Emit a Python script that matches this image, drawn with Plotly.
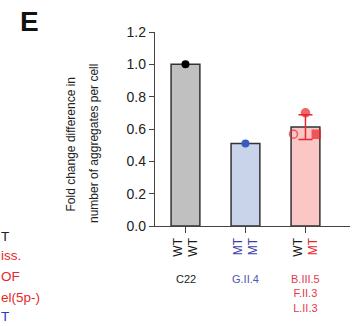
import numpy as np
import plotly.graph_objects as go

# Per-group measurements (fold change in aggregates per cell)
groups = ["C22", "G.II.4", "B.III.5<br>F.II.3<br>L.II.3"]
c22_vals = [1.0]
g24_vals = [0.51]
b35_vals = [0.70, 0.568, 0.568]          # filled circle, open circle, square
tick_top = ["WT", "MT", "WT"]
tick_bottom = ["WT", "MT", "MT"]
y_ticks = [0.0, 0.2, 0.4, 0.6, 0.8, 1.0, 1.2]

BLACK = "#1a1a1a"
BLUE = "#3b3fae"
RED = "#e8262c"
bar_fill = ["#c0c0c0", "#c9d3ea", "#fac6c6"]
top_col = [BLACK, BLUE, BLACK]
bot_col = [BLACK, BLUE, RED]
group_col = ["#222222", "#4e58b0", "#e23a4a"]

W, H = 362, 326
L, R, T, B = 155, 12, 32, 100
pw, ph = W - L - R, H - T - B


def px(x):
    return (x - L) / pw


def py(y):
    return (H - B - y) / ph


means = [np.mean(c22_vals), np.mean(g24_vals), np.mean(b35_vals)]
sd3 = np.std(b35_vals, ddof=1)
xs = [0, 1, 2]

fig = go.Figure()
fig.add_trace(go.Bar(
    x=xs, y=means, width=0.48,
    marker=dict(color=bar_fill, line=dict(color="#333333", width=1.5)),
    showlegend=False, hoverinfo="skip",
))
# SD error bar on the last group
fig.add_trace(go.Scatter(
    x=[2], y=[means[2]], mode="markers",
    marker=dict(size=1, color="rgba(0,0,0,0)"),
    error_y=dict(type="data", array=[sd3], color=RED, thickness=1.5, width=7),
    showlegend=False, hoverinfo="skip",
))
# individual points
fig.add_trace(go.Scatter(x=[0], y=c22_vals, mode="markers",
                         marker=dict(size=8, color="black"), showlegend=False))
fig.add_trace(go.Scatter(x=[1], y=g24_vals, mode="markers",
                         marker=dict(size=8, color="#3a5cc0"), showlegend=False))
fig.add_trace(go.Scatter(
    x=[2, 1.8, 2.18], y=b35_vals, mode="markers",
    marker=dict(size=[8, 8, 8], symbol=["circle", "circle-open", "square"],
                color=RED, line=dict(color=RED, width=1.5)),
    showlegend=False,
))

ticktext = [
    f"<span style='color:{top_col[i]}'>{tick_top[i]}</span><br>"
    f"<span style='color:{bot_col[i]}'>{tick_bottom[i]}</span>"
    for i in range(3)
]

fig.update_layout(
    width=W, height=H,
    margin=dict(l=L, r=R, t=T, b=B),
    paper_bgcolor="white", plot_bgcolor="white",
    font=dict(family="Arial, Liberation Sans, sans-serif", color="#222222"),
    xaxis=dict(
        range=[-0.508, 2.742], tickmode="array", tickvals=xs, ticktext=ticktext,
        tickangle=-90, tickfont=dict(size=12), ticks="outside", ticklen=6,
        tickwidth=1.3, tickcolor="#444444", showline=True, linecolor="#444444",
        linewidth=1.4, showgrid=False, zeroline=False,
    ),
    yaxis=dict(
        range=[0, 1.2], tickmode="array", tickvals=y_ticks,
        ticktext=[f"{v:.1f}" for v in y_ticks], tickfont=dict(size=14, color="#222222"),
        ticks="outside", ticklen=5, tickwidth=1.3, tickcolor="#444444",
        showline=True, linecolor="#444444", linewidth=1.4,
        showgrid=False, zeroline=False,
    ),
)

ann = []
# axis title in two lines
ann.append(dict(text="Fold change difference in", x=px(70.5), y=py(144),
                textangle=-90, font=dict(size=12, color="#222222")))
ann.append(dict(text="number of aggregates per cell", x=px(94), y=py(144),
                textangle=-90, font=dict(size=12, color="#222222")))
# group names under the tick labels
for i, g in enumerate(groups):
    ann.append(dict(text=g, x=px([185.5, 245.5, 305][i]), y=py(271), yanchor="top",
                    font=dict(size=11, color=group_col[i])))
# panel letter
ann.append(dict(text="<b>E</b>", x=px(18), y=py(4), xanchor="left", yanchor="top",
                font=dict(size=28, color="#111111")))
# neighbouring legend text at the left edge
side = [("T", "#222222", 236), ("iss.", RED, 256), ("OF", RED, 276),
        ("el(5p-)", RED, 297), ("T", "#2b3bd0", 316)]
for txt, col, y in side:
    ann.append(dict(text=txt, x=px(-1), y=py(y), xanchor="left", yanchor="middle",
                    font=dict(size=13.5, color=col)))

for a in ann:
    a.update(xref="paper", yref="paper", showarrow=False)
    a.setdefault("xanchor", "center")
    a.setdefault("yanchor", "middle")
fig.update_layout(annotations=ann)

fig.write_html("out.html")
